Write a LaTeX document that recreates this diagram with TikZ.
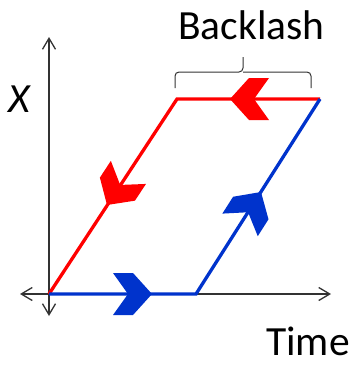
\documentclass[tikz,border=0pt]{standalone}
\usepackage{fontspec}
\setmainfont{Carlito}
\usetikzlibrary{arrows.meta}
\definecolor{myred}{RGB}{255,0,0}
\definecolor{myblue}{RGB}{0,51,204}
\definecolor{axisgray}{RGB}{50,50,50}
\tikzset{
  axisline/.style={draw=axisgray, line width=1.3pt, {Straight Barb[length=11pt,width=13pt]}-{Straight Barb[length=11pt,width=13pt]}},
  pathline/.style={line width=3.3pt, line join=miter},
  lbl/.style={inner sep=0pt, anchor=base west, font=\fontsize{41.5}{48}\selectfont},
  chev/.pic={\fill (0,0) -- (-19,-21) -- (-39,-21) -- (-24,0) -- (-39,21) -- (-19,21) -- cycle;}
}
\begin{document}
\begin{tikzpicture}[x=1pt,y=-1pt]
\useasboundingbox (0,0) rectangle (355,365);
% axis ends
\coordinate (O) at (49,294);
\coordinate (xl) at (20,294);
\coordinate (xr) at (331,294);
\coordinate (yt) at (49,37);
\coordinate (yb) at (49,316);
% path corners
\coordinate (B1) at (196,294);
\coordinate (TR) at (320,99);
\coordinate (TL) at (177,99);
% axes
\draw[axisline] (xl) -- (xr);
\draw[axisline] (yb) -- (yt);
% red path
\draw[myred, pathline] (TR) -- (TL) -- (O);
% blue path
\draw[myblue, pathline] (O) -- (B1) -- (TR);
% arrowheads
\pic[myblue] at (152,294) {chev};
\pic[myblue, rotate=57.5] at (261,192) {chev};
\pic[myred, rotate=180] at (230,99) {chev};
\pic[myred, rotate=236.7] at (107,205) {chev};
% bracket
\coordinate (bl) at (175,88);
\coordinate (br) at (311,88);
\coordinate (bm) at (243,57);
\draw[axisgray, line width=1pt, rounded corners=4pt]
  (bl) -- (175,72) -- (243,72) -- (bm);
\draw[axisgray, line width=1pt, rounded corners=4pt]
  (br) -- (311,72) -- (243,72);
% labels
\node[lbl] (backlash) at (178,39) {Backlash};
\node[lbl] (time) at (266,355) {Time};
\node[lbl] (xlab) at (8,112) {\itshape X};
\end{tikzpicture}
\end{document}
